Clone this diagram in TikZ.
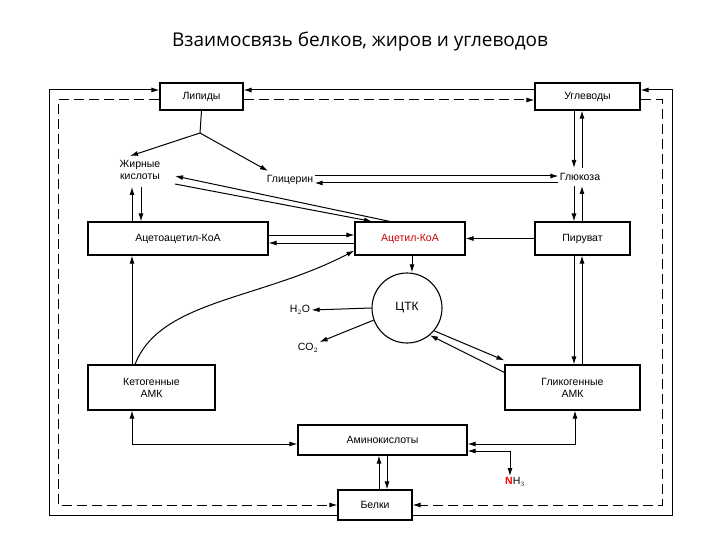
\documentclass[tikz,border=0pt]{standalone}
\usepackage{fontspec}
\setmainfont{Liberation Sans}
\newfontfamily\titlefont{Open Sans}
\usetikzlibrary{arrows.meta}
\begin{document}
\begin{tikzpicture}[x=1pt,y=-1pt,line width=1pt,
 box/.style={draw,line width=1.1pt,fill=white,inner sep=0pt,font=\fontsize{10.5}{12}\selectfont,align=center},
 lbl/.style={font=\fontsize{10.5}{12}\selectfont,align=center,inner sep=1pt},
 ar/.style={-{Latex[length=8pt,width=5pt]}},
 ba/.style={{Latex[length=8pt,width=5pt]}-{Latex[length=8pt,width=5pt]}},
 dsh/.style={dash pattern=on 10pt off 5pt}]
\useasboundingbox (0,0) rectangle (720,540);
\node[font=\titlefont\fontsize{19}{22}\selectfont] (title) at (360,42) {Взаимосвязь белков, жиров и углеводов};
\node[box,minimum width=83,minimum height=27] (lip) at (201.5,96.5) {Липиды};
\node[box,minimum width=105,minimum height=27] (ugl) at (587.5,96.5) {Углеводы};
\node[lbl] (zk) at (140,170) {Жирные\\кислоты};
\node[lbl] (gli) at (290,180) {Глицерин};
\node[lbl] (glu) at (580,177) {Глюкоза};
\node[box,minimum width=180,minimum height=33] (aa) at (178,238.5) {Ацетоацетил-КоА};
\node[box,minimum width=110,minimum height=33,text=red!80!black] (ak) at (410,238.5) {Ацетил-КоА};
\node[box,minimum width=95,minimum height=33] (pir) at (582.5,238.5) {Пируват};
\node[draw,line width=1.1pt,circle,minimum size=70,font=\fontsize{12}{13}\selectfont] (ctk) at (407,308) {ЦТК};
\node[lbl] (h2o) at (300,310) {H$_2$O};
\node[lbl] (co2) at (308,348) {CO$_2$};
\node[box,minimum width=127,minimum height=45] (ket) at (151.5,387.5) {Кетогенные\\АМК};
\node[box,minimum width=135,minimum height=45] (glk) at (572.5,387.5) {Гликогенные\\АМК};
\node[box,minimum width=169,minimum height=30] (amk) at (382.5,440) {Аминокислоты};
\node[box,minimum width=74,minimum height=30] (bel) at (375,505) {Белки};
\node[lbl] (nh3) at (515,482) {\textcolor{red}{\textbf{N}}H$_3$};
% outer solid frame
\draw[ar] (bel.west|-0,515) -| (49,90) -- (lip.west|-0,90);
\draw[ar] (bel.east|-0,515) -| (672,90) -- (ugl.east|-0,90);
\draw[ar] (ugl.west|-0,90) -- (lip.east|-0,90);
% dashed frame
\draw[dsh,-{Latex[length=8pt,width=5pt]}] (lip.east|-0,100) -- (ugl.west|-0,100);
\draw[dsh,-{Latex[length=8pt,width=5pt]}] (lip.west|-0,100) -| (58,505) -- (bel.west|-0,505);
\draw[dsh,-{Latex[length=8pt,width=5pt]}] (ugl.east|-0,100) -| (662,505) -- (bel.east|-0,505);
% lipid split
\coordinate (sp) at (200,133);
\draw (lip.south) -- (sp);
\draw[ar] (sp) -- (130,156);
\draw[ar] (sp) -- (268,171);
% glycerin-glucose
\draw[ar] (gli.east|-0,176) -- (glu.west|-0,176);
\draw[ar] (glu.west|-0,183) -- (gli.east|-0,183);
% fatty acids - acetyl
\draw[ar] ([xshift=-20]ak.north) -- (175,176);
\draw[ar] (175,184) -- ([xshift=-38]ak.north);
% fatty acids - acetoacetyl
\draw[ar] (132,0|-aa.north) -- (132,187);
\draw[ar] (141,187) -- (141,0|-aa.north);
% acetoacetyl - acetyl
\draw[ar] (aa.east|-0,235) -- (ak.west|-0,235);
\draw[ar] (ak.west|-0,243) -- (aa.east|-0,243);
\draw[ar] (pir) -- (ak);
% carbohydrate column
\draw[ar] (574,0|-ugl.south) -- (574,168);
\draw[ar] (582,168) -- (582,0|-ugl.south);
\draw[ar] (574,186) -- (574,0|-pir.north);
\draw[ar] (582,0|-pir.north) -- (582,186);
\draw[ar] (574,0|-pir.south) -- (574,0|-glk.north);
\draw[ar] (582,0|-glk.north) -- (582,0|-pir.south);
% CTK
\draw[ar] (412,0|-ak.south) -- (412,0|-ctk.north);
\draw[ar] (ctk.west) -- (h2o.east);
\draw[ar] (ctk.200) -- (co2.north east);
\draw[ar] (ctk.-40) -- ([yshift=4]glk.north west);
\draw[ar] ([yshift=-8]glk.north west) -- (ctk.-50);
% ketogenic
\draw[ar] (132,0|-ket.north) -- (132,0|-aa.south);
\draw[ar] (135,0|-ket.north) .. controls (160,300) and (260,300) .. ([yshift=5]ak.south west);
\draw[ba] (132,0|-ket.south) |- (amk.west|-0,444);
\draw[ba] (575,0|-glk.south) |- (amk.east|-0,444);
\draw[ba] (amk.east|-0,451) -| (510,0|-nh3.north);
\draw[ar] (379,0|-bel.north) -- (379,0|-amk.south);
\draw[ar] (387,0|-amk.south) -- (387,0|-bel.north);
\end{tikzpicture}
\end{document}
